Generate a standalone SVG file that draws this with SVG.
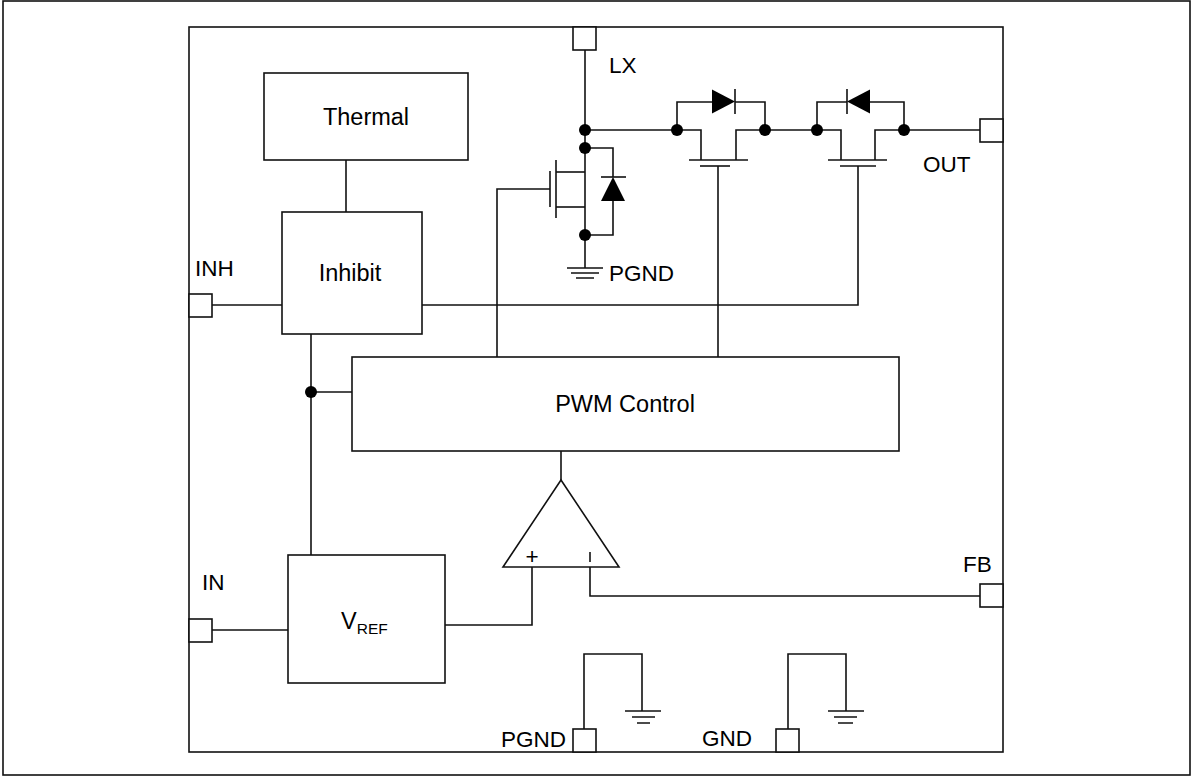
<svg xmlns="http://www.w3.org/2000/svg" width="1192" height="776" viewBox="0 0 1192 776">
<style>
.s{fill:none;stroke:#111;stroke-width:1.6}
.b{fill:#fff;stroke:#111;stroke-width:1.6}
.d{fill:#000;stroke:none}
.t{font-family:"Liberation Sans",Arial,sans-serif;font-size:22.5px;fill:#000}
.k{font-size:23.5px}
.m{text-anchor:middle}
</style>
<rect width="1192" height="776" fill="#fff"/>
<rect x="3" y="1" width="1187" height="774" class="s"/>
<g id="chip"><rect x="189" y="27" width="814" height="725" class="s"/></g>

<g id="connectors" class="s">
  <path d="M346 160V212"/>
  <path d="M212 305H282"/>
  <path d="M311 334V555"/>
  <path d="M311 392H352"/>
  <path d="M422 305H858V166"/>
  <path d="M212 630H288"/>
  <path d="M445 625H532V567"/>
  <path d="M590 567V596H980"/>
  <path d="M561 451V480"/>
  <path d="M497 357V189H550"/>
  <path d="M718 357V166"/>
  <path d="M585 50V235"/>
  <path d="M585 130H677"/>
  <path d="M765 130H817"/>
  <path d="M904 130H980"/>
  <path d="M584 729V654H642V711"/>
  <path d="M788 729V654H846V711"/>
</g>

<g id="lowside-fet" class="s">
  <path d="M585 172H556"/>
  <path d="M556 160V218"/>
  <path d="M550 171V207"/>
  <path d="M556 207H585"/>
  <path d="M585 148H613V177"/>
  <path d="M613 201V235H585"/>
  <path d="M601 177H626"/>
  <polygon points="613,177 601,201 625,201" class="d"/>
  <path d="M585 235V268"/>
  <path d="M567 268H603M571 273H599M576 278H594"/>
</g>

<g id="fet1" class="s">
  <path d="M677 130V102H712"/>
  <polygon points="735,101.5 712,89.5 712,113.5" class="d"/>
  <path d="M735 89V114"/>
  <path d="M735 102H765V130"/>
  <path d="M677 130H701V160"/>
  <path d="M765 130H736V160"/>
  <path d="M689 160H748"/>
  <path d="M700 166H730"/>
</g>

<g id="fet2" class="s">
  <path d="M817 130V102H847"/>
  <polygon points="847,101.5 870,89.5 870,113.5" class="d"/>
  <path d="M847 89V114"/>
  <path d="M870 102H904V130"/>
  <path d="M817 130H841V160"/>
  <path d="M904 130H875V160"/>
  <path d="M828 160H887"/>
  <path d="M840 166H876"/>
</g>

<g id="dots" class="d">
  <circle cx="585" cy="130" r="6"/>
  <circle cx="585" cy="148" r="6"/>
  <circle cx="585" cy="235" r="6"/>
  <circle cx="677" cy="130" r="6"/>
  <circle cx="765" cy="130" r="6"/>
  <circle cx="817" cy="130" r="6"/>
  <circle cx="904" cy="130" r="6"/>
  <circle cx="311" cy="392" r="6"/>
</g>

<g id="gnd-symbols" class="s">
  <path d="M625 711H661M632 717H655M637 723H650"/>
  <path d="M828 711H864M834 717H857M838 723H853"/>
</g>

<g id="thermal">
  <rect x="264" y="73" width="204" height="87" class="b"/>
  <text x="366" y="125" class="t k m">Thermal</text>
</g>
<g id="inhibit">
  <rect x="282" y="212" width="140" height="122" class="b"/>
  <text x="350" y="281" class="t k m">Inhibit</text>
</g>
<g id="pwm">
  <rect x="352" y="357" width="547" height="94" class="b"/>
  <text x="625" y="412" class="t k m">PWM Control</text>
</g>
<g id="vref">
  <rect x="288" y="555" width="157" height="128" class="b"/>
  <text x="341" y="629" class="t k">V<tspan font-size="15.5" dy="5">REF</tspan></text>
</g>
<g id="amp">
  <polygon points="561,480 503,567 619,567" class="b"/>
  <text x="532" y="564" class="t m" font-size="22">+</text>
  <path d="M590 552V562" class="s"/>
</g>

<g id="pins" class="b">
  <rect x="573" y="27" width="23" height="23"/>
  <rect x="980" y="119" width="23" height="23"/>
  <rect x="189" y="294" width="23" height="23"/>
  <rect x="189" y="619" width="23" height="23"/>
  <rect x="980" y="584" width="23" height="23"/>
  <rect x="573" y="729" width="23" height="23"/>
  <rect x="776" y="729" width="23" height="23"/>
</g>

<g id="labels" class="t">
  <text x="609" y="73">LX</text>
  <text x="923" y="172">OUT</text>
  <text x="195" y="276">INH</text>
  <text x="202" y="590">IN</text>
  <text x="963" y="572">FB</text>
  <text x="609" y="281">PGND</text>
  <text x="566" y="747" text-anchor="end">PGND</text>
  <text x="702" y="746">GND</text>
</g>
</svg>
